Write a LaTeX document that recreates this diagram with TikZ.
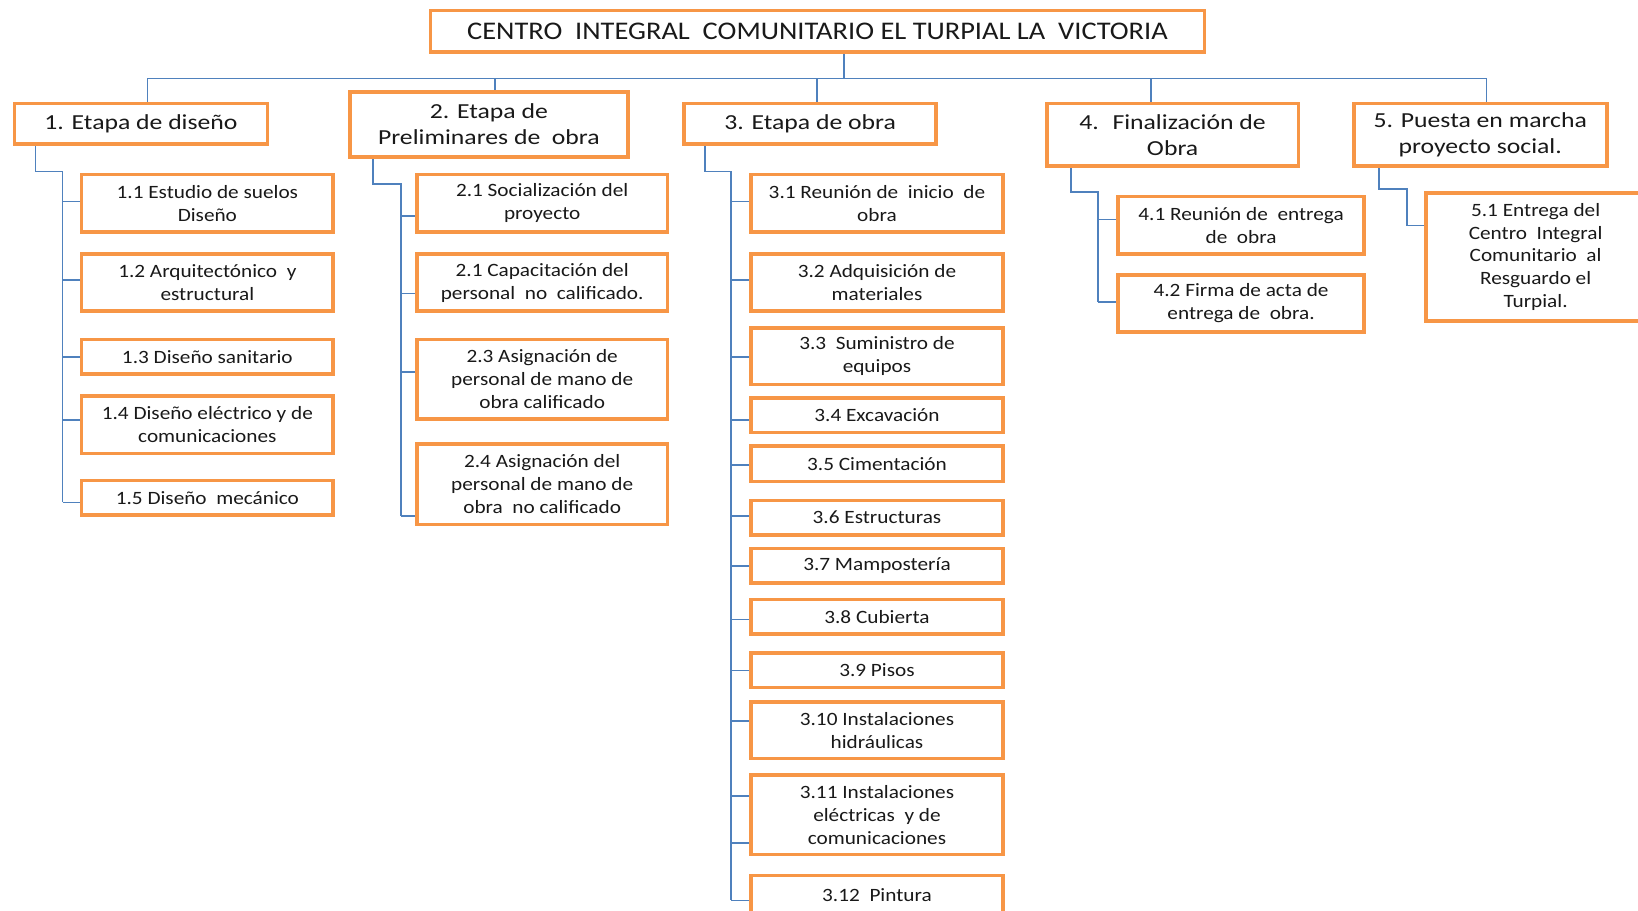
\documentclass[tikz,border=0pt]{standalone}
\usepackage{fontspec}
\setmainfont{Carlito}
\newfontfamily\bodyf{Carlito}[FakeStretch=1.13]
\newfontfamily\headf{Carlito}[FakeStretch=1.2]
\newfontfamily\titf{Carlito}[FakeStretch=1.12]
\usetikzlibrary{backgrounds}
\definecolor{boxorange}{HTML}{F79646}
\definecolor{linkblue}{HTML}{4F81BD}
\tikzset{
  wbox/.style={draw=boxorange, line width=3.5pt, fill=white, inner sep=0pt, align=center, text=black!90},
  item/.style={wbox, font=\bodyf\fontsize{18}{22}\selectfont},
  head/.style={wbox, font=\headf\fontsize{20.5}{25}\selectfont},
  titlebox/.style={wbox, font=\titf\fontsize{24.3}{28}\selectfont},
  link/.style={draw=linkblue, line width=1.5pt}
}
\begin{document}
\begin{tikzpicture}[x=1pt,y=-1pt]
\useasboundingbox (0,0) rectangle (1568,872);
\begin{scope}
\clip (0,0) rectangle (1568,872);
% title
\node[titlebox, minimum width=741pt, minimum height=40pt] (T) at (782.5,30) {CENTRO~ INTEGRAL~ COMUNITARIO EL TURPIAL LA~ VICTORIA};
% headers
\node[head, minimum width=242pt, minimum height=39pt] (H1) at (135,118.5) {\strut1. Etapa de diseño};
\node[head, minimum width=266pt, minimum height=62pt] (H2) at (468,119) {2. Etapa de\\Preliminares de~ obra};
\node[head, minimum width=241pt, minimum height=39pt] (H3) at (775.5,118.5) {\strut3. Etapa de obra};
\node[head, minimum width=241pt, minimum height=60pt] (H4) at (1122.5,129) {4.~ Finalización de\\Obra};
\node[head, minimum width=242pt, minimum height=60pt] (H5) at (1417,129) {5. Puesta en marcha\\proyecto social.};
% column 1
\node[item, minimum width=241pt, minimum height=55pt] (c11) at (198.5,194.5) {1.1 Estudio de suelos\\Diseño};
\node[item, minimum width=241pt, minimum height=55pt] (c12) at (198.5,270.5) {1.2 Arquitectónico~ y\\estructural};
\node[item, minimum width=241pt, minimum height=33pt] (c13) at (198.5,341.5) {1.3 Diseño sanitario};
\node[item, minimum width=241pt, minimum height=55pt] (c14) at (198.5,406.5) {1.4 Diseño eléctrico y de\\comunicaciones};
\node[item, minimum width=241pt, minimum height=33pt] (c15) at (198.5,476.5) {1.5 Diseño~ mecánico};
% column 2
\node[item, minimum width=240pt, minimum height=55pt] (c21) at (519,194.5) {2.1 Socialización del\\proyecto};
\node[item, minimum width=240pt, minimum height=55pt] (c22) at (519,270.5) {2.1 Capacitación del\\personal~ no~ calificado.};
\node[item, minimum width=240pt, minimum height=76pt] (c23) at (519,363) {2.3 Asignación de\\personal de mano de\\obra calificado};
\node[item, minimum width=240pt, minimum height=77pt] (c24) at (519,463.5) {2.4 Asignación del\\personal de mano de\\obra~ no calificado};
% column 3
\node[item, minimum width=241pt, minimum height=55pt] (c31) at (839.5,194.5) {3.1 Reunión de~ inicio~ de\\obra};
\node[item, minimum width=241pt, minimum height=55pt] (c32) at (839.5,270.5) {3.2 Adquisición de\\materiales};
\node[item, minimum width=241pt, minimum height=54pt] (c33) at (839.5,341) {3.3~ Suministro de\\equipos};
\node[item, minimum width=241pt, minimum height=33pt] (c34) at (839.5,397.5) {3.4 Excavación};
\node[item, minimum width=241pt, minimum height=34pt] (c35) at (839.5,444) {3.5 Cimentación};
\node[item, minimum width=241pt, minimum height=33pt] (c36) at (839.5,495.5) {3.6 Estructuras};
\node[item, minimum width=241pt, minimum height=33pt] (c37) at (839.5,541.5) {3.7 Mampostería};
\node[item, minimum width=241pt, minimum height=33pt] (c38) at (839.5,590.5) {3.8 Cubierta};
\node[item, minimum width=241pt, minimum height=33pt] (c39) at (839.5,641.5) {3.9 Pisos};
\node[item, minimum width=241pt, minimum height=54pt] (c310) at (839.5,699) {3.10 Instalaciones\\hidráulicas};
\node[item, minimum width=241pt, minimum height=76pt] (c311) at (839.5,780) {3.11 Instalaciones\\eléctricas~ y de\\comunicaciones};
\node[item, minimum width=241pt, minimum height=38pt] (c312) at (839.5,857) {3.12~ Pintura};
% column 4
\node[item, minimum width=236pt, minimum height=55pt] (c41) at (1188,215.5) {4.1 Reunión de~ entrega\\de~ obra};
\node[item, minimum width=236pt, minimum height=55pt] (c42) at (1188,290.5) {4.2 Firma de acta de\\entrega de~ obra.};
% column 5
\node[item, minimum width=210pt, minimum height=122pt] (c51) at (1470,246) {5.1 Entrega del\\Centro~ Integral\\Comunitario~ al\\Resguardo el\\Turpial.};

% connector coordinates
\coordinate (bar) at (808,75);
\coordinate (barL) at (141,75);
\coordinate (barR) at (1423,75);
\coordinate (d2) at (474,75);
\coordinate (d3) at (782,75);
\coordinate (d4) at (1102,75);
\coordinate (e1) at (34,164);  \coordinate (s1) at (60,164);  \coordinate (s1e) at (60,481);
\coordinate (e2) at (357,176); \coordinate (s2) at (384,176); \coordinate (s2e) at (384,494);
\coordinate (e3) at (675,164); \coordinate (s3) at (700,164); \coordinate (s3e) at (700,862);
\coordinate (e4) at (1025,184); \coordinate (s4) at (1051,184); \coordinate (s4e) at (1051,289);
\coordinate (e5) at (1320,181); \coordinate (s5) at (1347,181); \coordinate (s5e) at (1347,216);

\begin{scope}[on background layer]
\draw[link] (bar |- T.south) -- (bar);
\draw[link] (barL |- H1.north) -- (barL) -- (barR) -- (barR |- H5.north);
\draw[link] (d2) -- (d2 |- H2.north);
\draw[link] (d3) -- (d3 |- H3.north);
\draw[link] (d4) -- (d4 |- H4.north);
% spines
\draw[link] (e1 |- H1.south) -- (e1) -- (s1) -- (s1e);
\draw[link] (e2 |- H2.south) -- (e2) -- (s2) -- (s2e);
\draw[link] (e3 |- H3.south) -- (e3) -- (s3) -- (s3e);
\draw[link] (e4 |- H4.south) -- (e4) -- (s4) -- (s4e);
\draw[link] (e5 |- H5.south) -- (e5) -- (s5) -- (s5e) -- (s5e -| c51.west);
% ticks column 1
\foreach \n/\y in {c11/193,c12/268,c13/342,c14/402,c15/481}
  \draw[link] (60,\y) -- (\n.west |- 60,\y);
% ticks column 2
\foreach \n/\y in {c21/207,c22/281,c23/356,c24/494}
  \draw[link] (384,\y) -- (\n.west |- 384,\y);
% ticks column 3
\foreach \n/\y in {c31/193,c32/268,c33/342,c34/402,c35/445,c36/494,c37/542,c38/593,c39/642,c310/690,c311/762,c311/807,c312/862}
  \draw[link] (700,\y) -- (\n.west |- 700,\y);
% ticks column 4
\foreach \n/\y in {c41/210,c42/289}
  \draw[link] (1051,\y) -- (\n.west |- 1051,\y);
\end{scope}
\end{scope}
\end{tikzpicture}
\end{document}
